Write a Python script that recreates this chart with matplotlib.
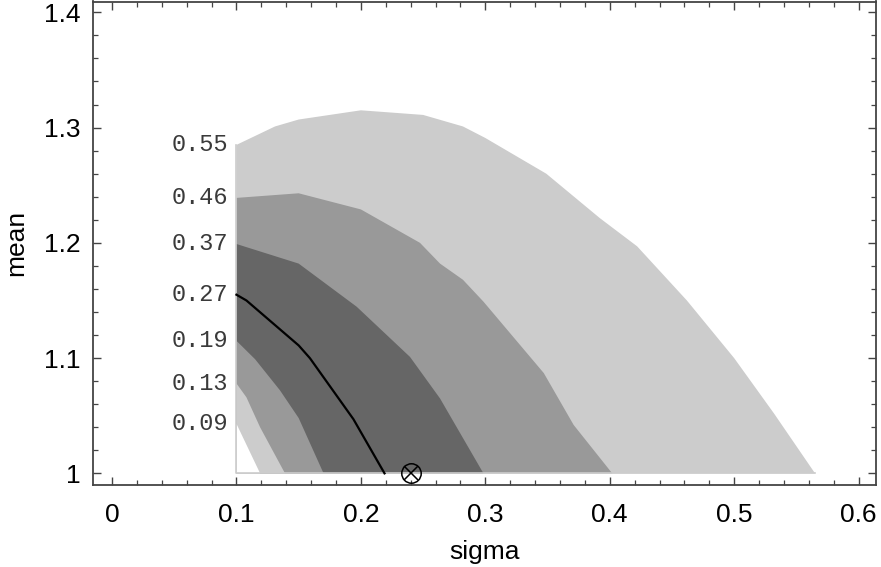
import numpy as np
import matplotlib
matplotlib.use('Agg')
import matplotlib.pyplot as plt
from matplotlib.ticker import MultipleLocator, FuncFormatter

# contour lines (sigma, mean), each running from the left edge down to mean = 1
s055 = [0.1, 0.131, 0.15, 0.2, 0.25, 0.282, 0.3, 0.349, 0.392, 0.422, 0.462, 0.5, 0.532, 0.565]
m055 = [1.285, 1.301, 1.307, 1.315, 1.311, 1.301, 1.291, 1.260, 1.2215, 1.197, 1.150, 1.100, 1.052, 1.0]

s046 = [0.1, 0.15, 0.2, 0.2475, 0.2636, 0.282, 0.2985, 0.347, 0.371, 0.402]
m046 = [1.239, 1.243, 1.229, 1.200, 1.182, 1.168, 1.149, 1.087, 1.042, 1.0]

s037 = [0.1, 0.15, 0.1966, 0.2395, 0.2636, 0.2985]
m037 = [1.199, 1.182, 1.1446, 1.101, 1.065, 1.0]

s027 = [0.1, 0.108, 0.15, 0.159, 0.194, 0.219]
m027 = [1.155, 1.150, 1.111, 1.100, 1.047, 1.0]

s019 = [0.1, 0.115, 0.135, 0.150, 0.170]
m019 = [1.115, 1.099, 1.072, 1.048, 1.0]

s013 = [0.1, 0.108, 0.119, 0.139]
m013 = [1.078, 1.066, 1.040, 1.0]

s009 = [0.1, 0.119]
m009 = [1.043, 1.0]

niveles = ['0.55', '0.46', '0.37', '0.27', '0.19', '0.13', '0.09']

# optimum marker
opt_sigma = 0.24
opt_mean = 1.0

plt.rcParams['font.family'] = ['Liberation Sans', 'DejaVu Sans']

fig = plt.figure(figsize=(8.81, 5.67), dpi=100)
ax = fig.add_axes([93 / 881, 1 - 485 / 567, 783 / 881, 483.5 / 567])


def region(s, m, color):
    xs = list(s) + [0.1]
    ys = list(m) + [1.0]
    ax.fill(xs, ys, color=color, lw=0, zorder=1)


region(s055, m055, '#cccccc')
region(s046, m046, '#999999')
region(s037, m037, '#666666')
region(s019, m019, '#999999')
region(s013, m013, '#cccccc')
region(s009, m009, 'white')

# thin outline of the grid edge
ax.plot([0.1, 0.1, s055[-1]], [m055[0], 1.0, 1.0], color='#cccccc', lw=1.2, zorder=2)

ax.plot(s027, m027, color='black', lw=1.6, zorder=3)

ax.plot(opt_sigma, opt_mean, 'o', ms=14, mfc='none', mec='black', mew=1.1, zorder=4, clip_on=False)
ax.plot(opt_sigma, opt_mean, 'x', ms=10, mec='black', mew=1.1, zorder=4, clip_on=False)

curvas = [m055, m046, m037, m027, m019, m013, m009]
for txt, m in zip(niveles, curvas):
    ax.annotate(txt, xy=(0.1, m[0]), xytext=(-6, 0), textcoords='offset points',
                ha='right', va='center', fontsize=17, color='#3a3a3a',
                family=['Liberation Mono', 'DejaVu Sans Mono'])

ax.set_xlim(-0.0153, 0.614)
ax.set_ylim(0.9899, 1.4094)

ax.xaxis.set_major_locator(MultipleLocator(0.1))
ax.xaxis.set_minor_locator(MultipleLocator(0.02))
ax.yaxis.set_major_locator(MultipleLocator(0.1))
ax.yaxis.set_minor_locator(MultipleLocator(0.02))


def fmt(v, pos):
    s = f'{v:.1f}'
    if s.endswith('.0'):
        s = s[:-2]
    return s


ax.xaxis.set_major_formatter(FuncFormatter(fmt))
ax.yaxis.set_major_formatter(FuncFormatter(fmt))

ax.tick_params(which='both', direction='in', top=True, right=True, colors='#444444',
               labelcolor='black', labelsize=19)
ax.tick_params(which='major', length=6, width=1)
ax.tick_params(which='minor', length=3.5, width=0.9)
ax.tick_params(axis='x', which='major', pad=13)
ax.tick_params(axis='y', which='major', pad=9)
for sp in ax.spines.values():
    sp.set_color('#444444')
    sp.set_linewidth(1.3)

ax.set_xlabel('sigma', fontsize=19, labelpad=9)
ax.set_ylabel('mean', fontsize=19, labelpad=11)

fig.savefig('out.png', dpi=100)
